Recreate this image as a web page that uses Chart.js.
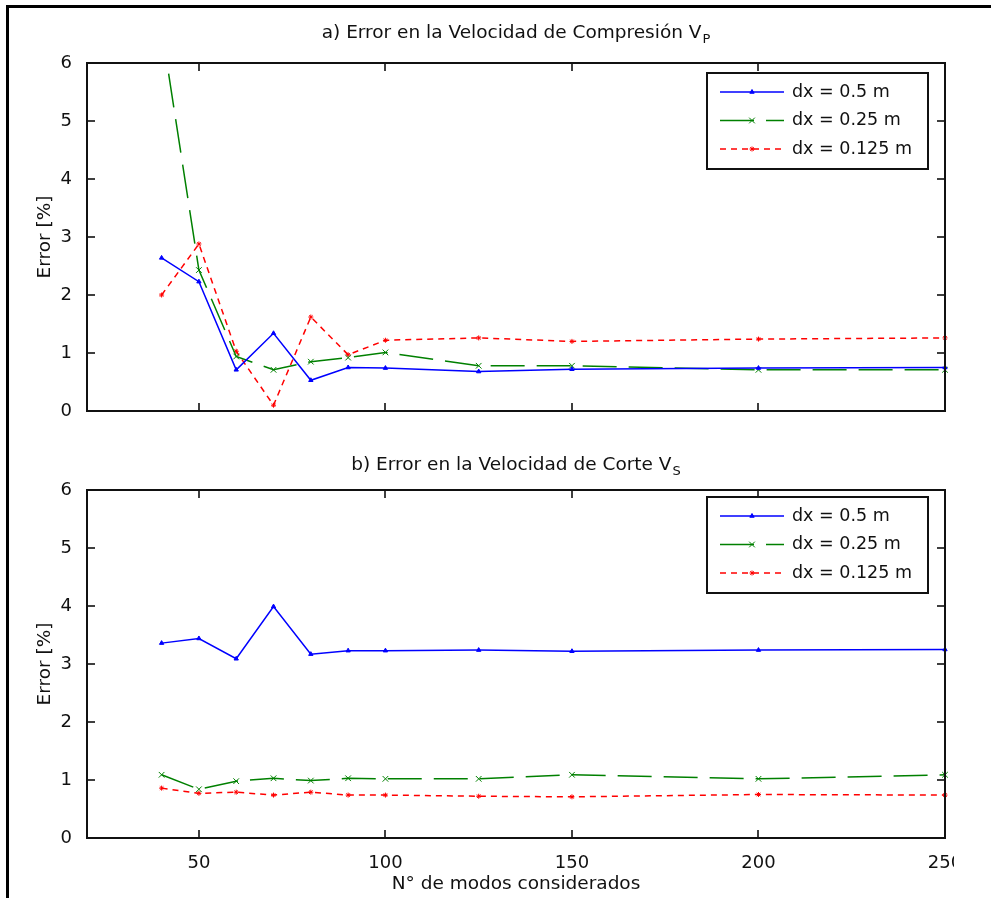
<!DOCTYPE html>
<html><head><meta charset="utf-8">
<script src="https://cdn.jsdelivr.net/npm/chart.js@4.4.0/dist/chart.umd.min.js"></script>
<style>
html,body{margin:0;padding:0;background:#fff;}
#wrap{position:relative;width:991px;height:898px;overflow:hidden;background:#fff;}
#frame{position:absolute;left:6px;top:5px;width:1000px;height:1000px;border-top:3px solid #000;border-left:3px solid #000;}
#c1{position:absolute;left:0;top:0;width:991px;height:440px;}
#c2{position:absolute;left:0;top:440px;width:954px;height:458px;}
</style></head><body>
<div id="wrap"><div id="frame"></div>
<canvas id="c1" width="991" height="440"></canvas>
<canvas id="c2" width="954" height="458"></canvas>
</div>
<script>
// ---- data ----
const modes = [40, 50, 60, 70, 80, 90, 100, 125, 150, 200, 250];
const vpDx050  = [2.64, 2.23, 0.71, 1.34, 0.53, 0.75, 0.74, 0.68, 0.72, 0.74, 0.75];
const vpDx025  = [6.6, 2.43, 0.94, 0.71, 0.85, 0.92, 1.01, 0.78, 0.78, 0.71, 0.71];
const vpDx0125 = [2.0, 2.88, 1.03, 0.1, 1.62, 0.97, 1.22, 1.26, 1.2, 1.24, 1.26];
const vsDx050  = [3.36, 3.44, 3.09, 3.99, 3.17, 3.23, 3.23, 3.24, 3.22, 3.24, 3.25];
const vsDx025  = [1.09, 0.84, 0.98, 1.03, 0.99, 1.03, 1.02, 1.02, 1.09, 1.02, 1.09];
const vsDx0125 = [0.86, 0.77, 0.79, 0.74, 0.79, 0.74, 0.74, 0.72, 0.71, 0.75, 0.74];
const xTicks = [50, 100, 150, 200, 250];
const yTicks = [0, 1, 2, 3, 4, 5, 6];
const seriesLabels = ['dx = 0.5 m', 'dx = 0.25 m', 'dx = 0.125 m'];
const titleA = ['a) Error en la Velocidad de Compresión V', 'P'];
const titleB = ['b) Error en la Velocidad de Corte V', 'S'];
const yTitle = 'Error [%]';
const xTitle = 'N° de modos considerados';

const FONT = '"DejaVu Sans", sans-serif';
const TXT = '#111';

const styles = [
  {color: '#0000ff', dash: [], pointStyle: 'triangle', radius: 2.5},
  {color: '#008000', dash: [34, 12], pointStyle: 'crossRot', radius: 4},
  {color: '#ff0000', dash: [6, 5], pointStyle: 'star', radius: 2.5}
];

function mkDatasets(arrs) {
  return arrs.map((vals, i) => ({
    label: seriesLabels[i],
    data: modes.map((m, k) => ({x: m, y: vals[k]})),
    borderColor: styles[i].color,
    backgroundColor: styles[i].color,
    borderDash: styles[i].dash,
    borderWidth: 1.5,
    pointStyle: styles[i].pointStyle,
    pointRadius: styles[i].radius,
    pointBorderWidth: 1,
    pointBorderColor: styles[i].color,
    pointBackgroundColor: styles[i].color,
    tension: 0,
    clip: {left: 6, right: 6, top: 0, bottom: 6}
  }));
}

const matlabPlugin = {
  id: 'matlab',
  afterDraw(chart, args, opts) {
    const ctx = chart.ctx;
    const a = chart.chartArea;
    const xs = chart.scales.x, ys = chart.scales.y;
    ctx.save();
    // ticks inward
    ctx.strokeStyle = '#000';
    ctx.lineWidth = 1.5;
    ctx.setLineDash([]);
    const tl = 8;
    ctx.beginPath();
    xTicks.forEach(v => {
      const px = Math.round(xs.getPixelForValue(v));
      ctx.moveTo(px, a.bottom); ctx.lineTo(px, a.bottom - tl);
      ctx.moveTo(px, a.top); ctx.lineTo(px, a.top + tl);
    });
    yTicks.forEach(v => {
      const py = Math.round(ys.getPixelForValue(v));
      ctx.moveTo(a.left, py); ctx.lineTo(a.left + tl, py);
      ctx.moveTo(a.right, py); ctx.lineTo(a.right - tl, py);
    });
    ctx.stroke();
    // box
    ctx.lineWidth = 2;
    ctx.strokeStyle = '#111';
    ctx.strokeRect(Math.round(a.left), Math.round(a.top), Math.round(a.right - a.left), Math.round(a.bottom - a.top));
    // title
    const t = opts.title;
    ctx.fillStyle = TXT;
    ctx.textBaseline = 'middle';
    ctx.textAlign = 'left';
    ctx.font = '18.5px ' + FONT;
    const w1 = ctx.measureText(t[0]).width;
    ctx.font = '13px ' + FONT;
    const w2 = ctx.measureText(t[1]).width;
    const cx = (a.left + a.right) / 2;
    const x0 = cx - (w1 + w2 + 1) / 2;
    ctx.font = '18.5px ' + FONT;
    ctx.fillText(t[0], x0, opts.titleY);
    ctx.font = '13px ' + FONT;
    ctx.fillText(t[1], x0 + w1 + 1, opts.titleY + 7);
    // legend
    const L = opts.legend;
    ctx.lineWidth = 2;
    ctx.strokeStyle = '#111';
    ctx.fillStyle = '#fff';
    ctx.fillRect(L.x, L.y, L.w, L.h);
    ctx.strokeRect(L.x, L.y, L.w, L.h);
    const rows = [19, 47.5, 76];
    chart.data.datasets.forEach((ds, i) => {
      const ry = L.y + rows[i];
      ctx.save();
      ctx.strokeStyle = ds.borderColor;
      ctx.lineWidth = ds.borderWidth;
      ctx.setLineDash(ds.borderDash);
      ctx.beginPath();
      ctx.moveTo(L.x + 13, ry); ctx.lineTo(L.x + 77, ry);
      ctx.stroke();
      ctx.setLineDash([]);
      ctx.fillStyle = ds.pointBackgroundColor;
      ctx.strokeStyle = ds.pointBorderColor;
      ctx.lineWidth = 1;
      Chart.helpers.drawPoint(ctx, {pointStyle: ds.pointStyle, radius: ds.pointRadius, rotation: 0, borderWidth: 1}, L.x + 45, ry);
      ctx.restore();
      ctx.fillStyle = TXT;
      ctx.font = '17.5px ' + FONT;
      ctx.textBaseline = 'middle';
      ctx.textAlign = 'left';
      ctx.fillText(ds.label, L.x + 85, ry);
    });
    ctx.restore();
  }
};

function makeChart(id, arrs, showX, title, titleY, legend, padTop, padRight, padBottom) {
  const xScale = {
    type: 'linear', min: 20, max: 250,
    display: showX,
    afterBuildTicks: s => { s.ticks = xTicks.map(v => ({value: v})); },
    grid: {display: false},
    border: {display: false},
    ticks: {color: TXT, font: {family: FONT, size: 18}, padding: 7, maxRotation: 0, autoSkip: false},
    title: {display: showX, text: xTitle, color: TXT, font: {family: FONT, size: 18.5}, padding: {top: 0, bottom: 3}},
    afterFit: s => { if (showX) s.height = 60; s.paddingLeft = 0; s.paddingRight = 0; }
  };
  const yScale = {
    type: 'linear', min: 0, max: 6,
    afterBuildTicks: s => { s.ticks = yTicks.map(v => ({value: v})); },
    grid: {display: false},
    border: {display: false},
    ticks: {color: TXT, font: {family: FONT, size: 18}, padding: 7},
    title: {display: true, text: yTitle, color: TXT, font: {family: FONT, size: 18.5}, padding: {top: 34, bottom: 0}},
    afterFit: s => { s.width = 87; }
  };
  return new Chart(document.getElementById(id), {
    type: 'line',
    data: {datasets: mkDatasets(arrs)},
    options: {
      responsive: false,
      animation: false,
      devicePixelRatio: 1,
      layout: {padding: {left: 0, top: padTop, right: padRight, bottom: padBottom}},
      plugins: {
        legend: {display: false},
        tooltip: {enabled: false},
        matlab: {title: title, titleY: titleY, legend: legend}
      },
      scales: {x: xScale, y: yScale}
    },
    plugins: [matlabPlugin]
  });
}

makeChart('c1', [vpDx050, vpDx025, vpDx0125], false, titleA, 33,
  {x: 707, y: 73, w: 221, h: 96}, 63, 46, 29);
makeChart('c2', [vsDx050, vsDx025, vsDx0125], true, titleB, 25,
  {x: 707, y: 57, w: 221, h: 96}, 50, 9, 0);
</script>
</body></html>
